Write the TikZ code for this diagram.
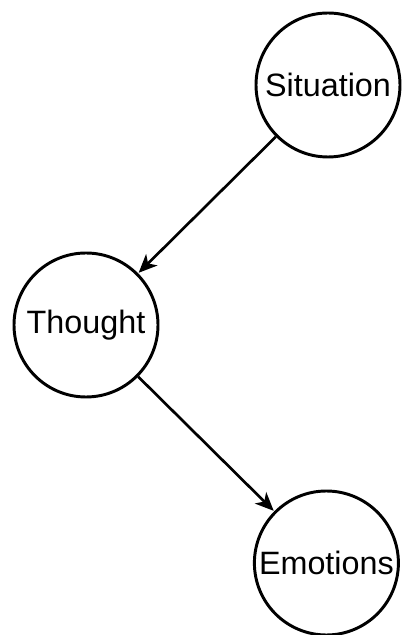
\documentclass[tikz,border=0pt]{standalone}
\usepackage{fontspec}
\setmainfont{Liberation Sans}
\usepackage{tikz}
\usetikzlibrary{arrows.meta, shadows}

\begin{document}
\begin{tikzpicture}[
    stateblock/.style={circle, draw, line width=2.1pt, fill=white, minimum size=3.6cm, inner sep=0pt,
        font=\fontsize{23}{27}\selectfont, drop shadow={opacity=0.2, shadow xshift=0.6pt, shadow yshift=-0.8pt}},
    arrow/.style={-{Stealth[length=4.6mm, width=4mm, inset=1.3mm]}, line width=1.9pt, shorten >=0.5pt}
]
\useasboundingbox (0,0) rectangle (10.05,15.875);

% Three states placed down the page
\node[stateblock] (situation) at (8.2,13.75) {Situation};
\node[stateblock] (thought) at (2.15,7.75) {Thought};
\node[stateblock] (emotions) at (8.16,1.8) {Emotions};

% Draw arrows between states
\draw[arrow] (situation) -- (thought);
\draw[arrow] (thought) -- (emotions);

\end{tikzpicture}
\end{document}
